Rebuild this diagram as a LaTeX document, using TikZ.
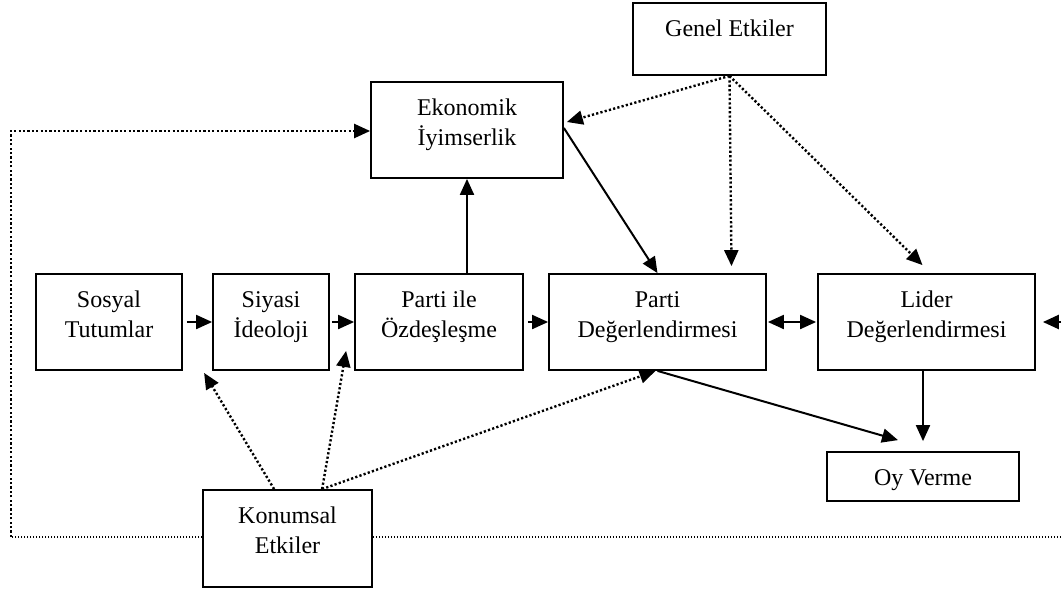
\documentclass[tikz,border=0pt]{standalone}
\usepackage{fontspec}
\setmainfont{Liberation Serif}
\usetikzlibrary{arrows.meta,calc}
\begin{document}
\begin{tikzpicture}[x=1pt,y=-1pt,
  box/.style={draw,line width=1.8pt,inner sep=0pt,minimum height=96pt},
  lbl/.style={anchor=north,inner sep=0pt,align=center,font=\fontsize{24}{30}\selectfont},
  tip/.style={-{Triangle[length=16pt,width=14pt]}},
  solid arrow/.style={tip,line width=2pt},
  dot arrow/.style={tip,line width=2.4pt,dash pattern=on 2.2pt off 2.2pt},
  thin dots/.style={line width=1.3pt,dash pattern=on 1.3pt off 1.7pt}]
\clip (0,0) rectangle (1062,590);
\fill[white] (0,0) rectangle (1062,590);

% boxes
\node[box,minimum width=193pt,minimum height=72pt] (gen) at (729.5,39) {};
\node[box,minimum width=192pt] (eko) at (467,130) {};
\node[box,minimum width=146pt] (sos) at (109,322) {};
\node[box,minimum width=116pt] (siy) at (271,322) {};
\node[box,minimum width=168pt] (poz) at (439,322) {};
\node[box,minimum width=217pt] (pdeg) at (657.5,322) {};
\node[box,minimum width=217pt] (lid) at (926.5,322) {};
\node[box,minimum width=192pt,minimum height=49pt] (oy) at (923,476.5) {};
\node[box,minimum width=169pt,minimum height=97pt] (kon) at (287.5,538.5) {};

% labels, set at the top of each box
\node[lbl] (gen-t) at ($(gen.north)+(0,13)$) {\strut Genel Etkiler};
\node[lbl] (eko-t) at ($(eko.north)+(0,13)$) {\strut Ekonomik\\İyimserlik};
\node[lbl] (sos-t) at ($(sos.north)+(0,13)$) {\strut Sosyal\\Tutumlar};
\node[lbl] (siy-t) at ($(siy.north)+(0,13)$) {\strut Siyasi\\İdeoloji};
\node[lbl] (poz-t) at ($(poz.north)+(0,13)$) {\strut Parti ile\\Özdeşleşme};
\node[lbl] (pdeg-t) at ($(pdeg.north)+(0,13)$) {\strut Parti\\Değerlendirmesi};
\node[lbl] (lid-t) at ($(lid.north)+(0,13)$) {\strut Lider\\Değerlendirmesi};
\node[lbl] (oy-t) at ($(oy.north)+(0,13)$) {\strut Oy Verme};
\node[lbl] (kon-t) at ($(kon.north)+(0,13)$) {\strut Konumsal\\Etkiler};

% solid connectors
\draw[solid arrow] ([xshift=4pt]sos.east) -- (siy.west);
\draw[solid arrow] ([xshift=2pt]siy.east) -- (poz.west);
\draw[solid arrow] ([xshift=4pt]poz.east) -- (pdeg.west);
\draw[{Triangle[length=16pt,width=14pt]}-{Triangle[length=16pt,width=14pt]},line width=2pt]
  ([xshift=1pt]pdeg.east) -- ([xshift=-1pt]lid.west);
\draw[solid arrow] (eko.south |- poz.north) -- (eko.south);
\draw[solid arrow] ($(eko.east)+(0,-2)$) -- (pdeg.north);
\draw[solid arrow] (pdeg.south) -- ($(oy.north)+(-25,-11)$);
\draw[solid arrow] (oy.north |- lid.south) -- ($(oy.north)+(0,-10)$);

% dotted influences from the top
\draw[dot arrow] (gen.south) -- ($(eko.east)+(3,-8)$);
\draw[dot arrow] (gen.south) -- ($(gen.south |- pdeg.north)+(2,-7)$);
\draw[dot arrow] (gen.south) -- ($(lid.north)+(-4,-8)$);

% dotted influences from below
\coordinate (k1) at ($(kon.north west)+(72,0)$);
\coordinate (k2) at ($(kon.north west)+(120,0)$);
\draw[dot arrow] (k1) -- ($(siy.south west)+(-8,2)$);
\draw[dot arrow] (k2) -- ($(poz.south west)+(-8,-20)$);
\draw[dot arrow] (k2) -- ($(pdeg.south)+(-2,0)$);

% outer dotted loop
\coordinate (lb) at (11,537);
\coordinate (lt) at (11,131);
\coordinate (rb) at (1075,537);
\coordinate (rt) at (1075,322);
\draw[thin dots] (kon.west |- lb) -- (lb);
\draw[dot arrow] (lb) -- (lt) -- (eko.west |- lt);
\draw[thin dots] (kon.east |- rb) -- (rb);
\draw[dot arrow] (rb) -- (rt) -- ($(lid.east)+(7,0)$);
\end{tikzpicture}
\end{document}
